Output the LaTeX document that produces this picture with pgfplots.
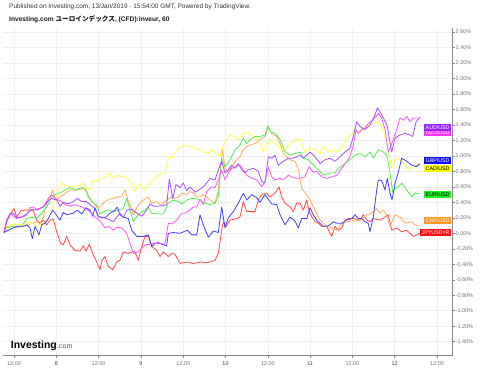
\documentclass[border=0pt]{standalone}
\usepackage{fontspec}
\setmainfont{Liberation Sans}
\newfontfamily\cjk{Noto Sans CJK JP}
\usepackage{pgfplots}
\pgfplotsset{compat=1.18}
\definecolor{cAUD}{HTML}{A64DFF}
\definecolor{cNZD}{HTML}{FF55FF}
\definecolor{cGBP}{HTML}{4040F0}
\definecolor{cCAD}{HTML}{FFFF40}
\definecolor{cEUR}{HTML}{50EE50}
\definecolor{cCHF}{HTML}{FFAA55}
\definecolor{cJPY}{HTML}{FF4848}
\definecolor{bAUD}{HTML}{9A22FF}
\definecolor{bNZD}{HTML}{FF33FF}
\definecolor{bGBP}{HTML}{1010F0}
\definecolor{bCAD}{HTML}{FFFF00}
\definecolor{bEUR}{HTML}{22EE22}
\definecolor{bCHF}{HTML}{FF9922}
\definecolor{bJPY}{HTML}{FF1010}
\definecolor{gridc}{HTML}{F0F0F0}
\definecolor{axisc}{HTML}{8A8A8A}
\definecolor{labc}{HTML}{707070}
\definecolor{dayc}{HTML}{404040}
\begin{document}
\begin{tikzpicture}
\begin{axis}[
  at={(3bp,13.3bp)}, anchor=south west,
  width=449bp, height=327.7bp, scale only axis,
  xmin=3, xmax=452, ymin=-1.581, ymax=2.652,
  axis x line=bottom, axis y line=right,
  axis line style={-, draw=axisc, line width=0.8bp},
  xtick={14,56.3,98.6,140.9,183.2,225.5,267.8,310.1,352.4,394.7,437},
  xticklabels={12:00,\textcolor{dayc}{8},12:00,\textcolor{dayc}{9},12:00,\textcolor{dayc}{10},12:00,\textcolor{dayc}{11},12:00,\textcolor{dayc}{12},12:00},
  ytick={-1.4,-1.2,-1,-0.8,-0.6,-0.4,-0.2,0,0.2,0.4,0.6,0.8,1,1.2,1.4,1.6,1.8,2,2.2,2.4,2.6},
  yticklabels={-1.40\%,-1.20\%,-1.00\%,-0.80\%,-0.60\%,-0.40\%,-0.20\%,0.00\%,0.20\%,0.40\%,0.60\%,0.80\%,1.00\%,1.20\%,1.40\%,1.60\%,1.80\%,2.00\%,2.20\%,2.40\%,2.60\%},
  grid=major, major grid style={draw=gridc, line width=0.5bp},
  tick align=outside, major tick length=2.5bp,
  tick style={draw=axisc, line width=0.5bp},
  ticklabel style={font=\fontsize{5.5}{6}\selectfont, text=labc},
  y tick label style={inner xsep=1bp},
  every axis plot/.append style={line width=0.8bp, line join=round, mark=none},
]
\addplot[cJPY] coordinates {(4,0.01) (6.7,0.17) (10,0.24) (14,0.32) (16.7,0.21) (20.7,0.29) (25,0.30) (30,0.30) (33.3,0.29) (36.7,0.17) (40,0.13) (43.3,0.17) (46.7,0.11) (50,0.17) (53.3,0.18) (56.7,0.02) (60.7,-0.13) (63.3,-0.15) (66.7,-0.04) (70,-0.15) (75,-0.22) (80,-0.23) (83.3,-0.16) (86,-0.23) (89.3,-0.14) (92.7,-0.26) (96.7,-0.37) (100,-0.47) (102,-0.35) (105,-0.30) (108.3,-0.43) (112.7,-0.47) (116.7,-0.37) (120,-0.35) (123.3,-0.24) (128.3,-0.26) (131.7,-0.24) (135,-0.24) (138.3,-0.35) (141.7,-0.17) (145,-0.04) (148.3,-0.04) (151.7,-0.17) (156.7,-0.22) (160,-0.30) (163.3,-0.24) (168.3,-0.30) (171.7,-0.26) (175,-0.27) (180,-0.39) (186.7,-0.37) (193.3,-0.39) (200,-0.37) (206.7,-0.38) (215,-0.35) (218.3,-0.26) (221.7,0.04) (223.3,0.15) (226,0.09) (230,0.17) (236.7,0.19) (240,0.21) (243.3,0.41) (246.7,0.28) (255,0.28) (258.3,0.43) (261.7,0.50) (266.7,0.52) (270,0.47) (275,0.52) (279,0.60) (281.7,0.47) (285,0.39) (290,0.34) (293.3,0.28) (296.7,0.39) (300,0.39) (303.3,0.30) (306.7,0.43) (309.3,0.28) (312,0.21) (315,0.15) (318.3,0.13) (321.7,0.09) (326.7,0.09) (331.7,-0.04) (335,0.09) (338.3,0.04) (341.7,0.07) (345,0.17) (348.3,0.19) (353.3,0.19) (360,0.17) (363.3,0.24) (366.7,0.17) (370,0.15) (373.3,0.19) (380,0.17) (385,0.21) (388.3,0.24) (391.7,0.04) (396.7,0.07) (401.7,0.02) (406.7,0.04) (410,0) (413.3,-0.04) (416.7,-0.02) (420,0)};
\addplot[cCHF] coordinates {(4,0.01) (6.7,0.09) (10,0.09) (15,0.08) (18.3,0.08) (23.3,0.09) (30,0.12) (33.3,0.13) (36.7,0.15) (40,0.13) (43.3,0.21) (46.7,0.39) (50,0.47) (52.7,0.56) (55,0.43) (58.3,0.45) (63.3,0.50) (70,0.56) (76.7,0.56) (83.3,0.58) (86.7,0.54) (90,0.45) (93.3,0.39) (96.7,0.34) (100,0.34) (105,0.41) (111.7,0.45) (118.3,0.47) (121.7,0.48) (125,0.56) (128,0.43) (130,0.37) (133.3,0.24) (136.7,0.33) (140,0.39) (143.3,0.43) (148.3,0.47) (151.7,0.39) (156.7,0.41) (160,0.37) (163.3,0.39) (168.3,0.45) (171.7,0.47) (175,0.45) (178.3,0.47) (181.7,0.52) (186.7,0.50) (190,0.54) (193.3,0.52) (196.7,0.47) (200,0.47) (203.3,0.50) (206.7,0.47) (210,0.43) (215,0.39) (218.3,0.56) (222.5,1.09) (225,0.84) (228.3,0.79) (231.7,0.86) (236.7,0.95) (240,0.99) (243.3,1.08) (246.7,1.12) (250,1.14) (255,1.16) (260,1.21) (265,1.25) (268.3,1.38) (271.7,1.29) (276.7,1.25) (280,1.16) (283.3,1.03) (286.7,0.99) (290,0.95) (295,0.93) (298.5,0.82) (301.7,0.58) (306.7,0.50) (310,0.43) (315,0.30) (320,0.17) (326.7,0.09) (331.7,0.07) (336.7,0.04) (341.7,0.13) (348.3,0.15) (355,0.17) (360,0.17) (366.7,0.24) (371.7,0.26) (376.7,0.32) (380,0.26) (383.3,0.30) (386.7,0.24) (390,0.09) (395,0.24) (400,0.21) (403.3,0.15) (406.7,0.13) (411.7,0.15) (415,0.11) (418.3,0.09)};
\addplot[cEUR] coordinates {(4,0.01) (6.7,0.07) (11.7,0.09) (16.7,0.09) (21.7,0.09) (26.7,0.19) (31.7,0.21) (36.7,0.19) (41.7,0.26) (46.7,0.34) (51.7,0.47) (55,0.50) (60,0.52) (65,0.56) (70,0.59) (75,0.56) (81.7,0.59) (85,0.58) (88.3,0.47) (93.3,0.39) (96.7,0.37) (100,0.25) (104,0.28) (108,0.30) (113.3,0.28) (118.3,0.30) (123.3,0.32) (126.7,0.45) (130,0.30) (133.3,0.15) (137,0.22) (141.7,0.28) (145,0.30) (148.3,0.34) (151.7,0.26) (158.3,0.25) (163.3,0.25) (168.3,0.39) (173.3,0.43) (178.3,0.41) (181.7,0.38) (186.7,0.43) (191.7,0.45) (195,0.45) (200,0.43) (205,0.39) (210,0.37) (215,0.39) (218.3,0.47) (221.7,0.97) (225,0.86) (230,0.95) (235,1.08) (240,1.14) (243.3,1.23) (246.7,1.16) (250,1.21) (255,1.25) (260,1.25) (265,1.27) (267.7,1.39) (270.7,1.31) (275,1.29) (280,1.21) (285,1.05) (290,1.01) (295,1.03) (300,1.05) (303.3,0.97) (308.3,0.95) (313.3,0.88) (318.3,0.82) (323.3,0.75) (330,0.78) (335,0.78) (338.3,0.84) (343.3,0.88) (350,0.95) (355,1.01) (360,1.03) (365,0.99) (370,1.05) (373.3,0.97) (378.3,1.08) (383.3,1.05) (386.7,1.01) (389.3,0.84) (392.7,0.53) (395,0.58) (398.3,0.60) (401.7,0.65) (406.7,0.56) (411.7,0.47) (415,0.52) (420,0.51)};
\addplot[cCAD] coordinates {(4,0.01) (6.7,0.07) (10,0.11) (15,0.12) (20,0.11) (25,0.12) (28.3,0.15) (33.3,0.12) (36.7,0.09) (40,0.11) (43.3,0.13) (48.3,0.17) (51.7,0.30) (55,0.43) (58.3,0.56) (61.7,0.65) (65,0.62) (70,0.60) (75,0.61) (80,0.62) (83.3,0.65) (86.7,0.58) (90,0.56) (93.3,0.69) (96.7,0.67) (100,0.71) (105,0.72) (109.3,0.78) (112.7,0.72) (116.7,0.75) (121.7,0.73) (125,0.74) (128.3,0.69) (131.7,0.65) (135,0.54) (138.3,0.64) (141.7,0.61) (144.3,0.56) (148,0.62) (151.7,0.67) (156.7,0.73) (161.7,0.78) (165,0.78) (168.3,0.99) (171.7,0.97) (175,1.05) (180,1.12) (185,1.14) (190,1.12) (195,1.10) (200,1.08) (203.3,1.05) (208.3,1.03) (211.7,1.08) (216.7,1.03) (220,0.99) (223.3,1.14) (226.7,1.21) (230,1.27) (235,1.25) (238.3,1.21) (243.3,1.29) (248.3,1.30) (253.3,1.25) (258.3,1.21) (263.3,1.05) (266.7,1.16) (270,1.21) (275,1.16) (280,1.10) (285,1.08) (290,1.16) (295,1.21) (300,1.21) (305,1.05) (310,1.10) (315,1.08) (320,1.03) (323.3,1.12) (328.3,1.05) (333.3,1.08) (338.3,1.05) (341.7,1.12) (346.7,1.23) (351.7,1.27) (355,1.36) (358.3,1.31) (361.7,1.34) (365,1.38) (368.3,1.40) (373.3,1.42) (378.3,1.44) (381.7,1.38) (385,1.23) (388.3,1.08) (391.7,0.84) (395,0.95) (398.3,0.97) (403.3,0.90) (408.3,0.82) (413.3,0.86) (420,0.90)};
\addplot[cGBP] coordinates {(4,0.01) (8.3,0.04) (13.3,0.07) (18.3,0.09) (23.3,0.09) (26.7,0.11) (30,0.07) (32.3,-0.07) (35,0.09) (39,-0.02) (41.7,0.11) (45,0.13) (48.3,0.19) (52.7,0.30) (55,0.26) (60,0.17) (63.3,0.27) (66.7,0.24) (73.3,0.26) (77.3,0.30) (81.7,0.25) (86,0.33) (90,0.30) (92.7,0.22) (95,0.33) (98.3,0.22) (101.7,0.20) (106,0.21) (110,0.26) (115,0.30) (117.3,0.34) (120,0.24) (123.3,0.21) (128.3,0.19) (131.7,0.04) (136.7,-0.04) (143.3,-0.04) (148.3,-0.02) (151.7,-0.17) (155,-0.13) (158.3,-0.12) (163.3,-0.15) (166.7,-0.16) (168.3,0) (173.3,0.01) (180,0) (187.3,0.04) (191.7,-0.02) (196.7,-0.02) (200,0.24) (203.3,0.11) (208.3,-0.05) (213.3,0.03) (218.3,0.01) (221.7,0.34) (225,0.07) (228.3,0.20) (233.3,0.28) (238.3,0.39) (243.3,0.52) (246.7,0.43) (251.7,0.50) (256.7,0.46) (260,0.40) (265,0.50) (268.3,0.44) (271.7,0.38) (276.7,0.37) (280,0.24) (285,0.11) (290,0.21) (295,0.16) (298.3,0.07) (301.7,0.19) (306.7,0.19) (310,0.33) (313.3,0.24) (316.7,0.17) (320,0.13) (323.3,0.09) (326.7,0.09) (330,0.11) (333.3,0.15) (336.7,0.13) (341.7,0.13) (346.7,0.17) (351.7,0.19) (355,0.24) (358.3,0.19) (361.7,0.19) (365,0.15) (368.3,0.13) (370,0.02) (373.3,0.21) (376.7,0.56) (378.3,0.69) (381.7,0.68) (385,0.56) (387.3,0.71) (390,0.52) (392,0.43) (395,0.64) (398.3,0.79) (401.7,0.97) (406.7,0.93) (411.7,0.88) (416.7,0.86) (420,0.90)};
\addplot[cNZD] coordinates {(4,0.01) (6.7,0.17) (10,0.26) (13.3,0.22) (16.7,0.19) (20,0.21) (23.3,0.21) (26.7,0.24) (30,0.33) (33.3,0.34) (36.7,0.31) (43.3,0.34) (48.3,0.45) (51.7,0.50) (55,0.45) (58.3,0.43) (61.7,0.41) (65,0.37) (70,0.35) (75,0.37) (80,0.35) (85,0.32) (90,0.28) (95,0.21) (100,0.16) (105,0.07) (109,0.09) (113.3,0.04) (117,0.08) (121.7,0.07) (126.7,0) (130,-0.13) (133.3,-0.26) (138.3,-0.24) (141.7,-0.19) (145,-0.15) (150,-0.14) (153.3,-0.13) (160,-0.13) (165,-0.14) (168.3,0.13) (172,0.12) (176.7,0.17) (181.7,0.26) (185,0.26) (190,0.30) (193.3,0.34) (196.7,0.34) (200,0.44) (203.3,0.37) (206.7,0.54) (211.7,0.60) (215,0.59) (218.3,0.69) (221.7,0.82) (225,0.69) (228.3,0.78) (231.7,0.84) (236.7,0.86) (240,0.88) (243.3,0.82) (246.7,0.75) (251.7,0.71) (256.7,0.69) (261.7,0.60) (265,0.67) (268.3,0.86) (271.7,0.73) (275,0.69) (280,0.71) (283.3,0.69) (288.3,0.75) (291.7,0.73) (296.7,0.71) (300,0.71) (305,0.73) (309,0.86) (313,0.79) (316.7,0.80) (321.7,0.73) (326.7,0.71) (331.7,0.73) (336.7,0.75) (341.7,0.84) (346.7,0.93) (350,0.99) (353.3,1.14) (356,1.34) (358.3,1.29) (361.7,1.34) (365,1.36) (368.3,1.42) (372.7,1.46) (376,1.51) (378.3,1.55) (381.7,1.49) (385,1.34) (388.3,1.05) (391.7,1.16) (396.7,1.34) (400,1.49) (403.3,1.46) (406.7,1.51) (410,1.44) (413.3,1.49) (418.3,1.49)};
\addplot[cAUD] coordinates {(4,0.01) (6.7,0.15) (10,0.24) (13.3,0.26) (16.7,0.20) (21.7,0.21) (26.7,0.25) (31.7,0.31) (36.7,0.30) (43.3,0.34) (48.3,0.42) (51.7,0.45) (56.7,0.43) (60,0.35) (63.3,0.40) (68.3,0.38) (73.3,0.41) (77.3,0.45) (81.7,0.41) (86.7,0.41) (91.7,0.35) (95,0.32) (98.3,0.21) (101.7,0.21) (106.7,0.19) (110,0.17) (113.3,0.15) (116.7,0.21) (120,0.26) (123.3,0.20) (126.7,0.30) (131.7,0.31) (136.7,0.26) (141.7,0.22) (146.7,0.30) (150,0.38) (153.3,0.35) (158.3,0.35) (163.3,0.36) (166.7,0.37) (169.3,0.70) (172.7,0.45) (176,0.63) (180,0.59) (183.3,0.65) (186.7,0.55) (190,0.60) (195,0.53) (200,0.57) (203.3,0.60) (206.7,0.65) (210,0.71) (215,0.69) (218.3,0.82) (221.7,0.93) (225,0.78) (228.3,0.82) (231.7,0.88) (235,0.84) (238.3,0.90) (241.7,0.82) (245,0.78) (248.3,0.82) (253.3,0.84) (258.3,0.80) (261.7,0.67) (265,0.65) (268.3,0.99) (271.7,0.97) (275,1.01) (278.3,0.88) (283.3,0.93) (288.3,0.97) (293.3,0.97) (296.7,0.99) (300,1.01) (303.3,0.97) (306.7,1.01) (310,1.05) (315,0.99) (320,0.90) (325,0.95) (330,0.97) (335,0.93) (340,0.99) (345,1.05) (350,1.10) (353.3,1.25) (356.7,1.44) (360,1.38) (365,1.34) (370,1.40) (375,1.53) (377.3,1.62) (380,1.57) (383.3,1.49) (387,1.40) (389.5,1.21) (391.7,1.05) (395,1.23) (400,1.27) (405,1.29) (410,1.27) (412.7,1.25) (416,1.44) (420,1.50)};
\tikzset{lab/.style={anchor=east, inner xsep=1.6bp, inner ysep=0bp, minimum height=7.3bp, font=\fontsize{5.3}{6}\selectfont}}
\node[lab, fill=bNZD, text=white] at (axis cs:451.3,1.305) {NZD/USD};
\node[lab, fill=bAUD, text=white] at (axis cs:451.3,1.370) {AUD/USD};
\node[lab, fill=bGBP, text=white] at (axis cs:451.3,0.943) {GBP/USD};
\node[lab, fill=bCAD, text=black] at (axis cs:451.3,0.835) {CAD/USD};
\node[lab, fill=bEUR, text=black] at (axis cs:451.3,0.504) {EUR/USD};
\node[lab, fill=bCHF, text=white] at (axis cs:451.3,0.163) {CHF/USD};
\node[lab, fill=bJPY, text=white] at (axis cs:451.3,0.013) {JPYUSD=R};
\end{axis}
\node[anchor=west, inner sep=0pt, text=black!80, font=\fontsize{6.5}{7}\selectfont] at (9bp,362.3bp) {Published on Investing.com, 13/Jan/2019 - 15:54:00 GMT, Powered by TradingView.};
\node[anchor=west, inner sep=0pt, text=black!90, font=\fontsize{6.65}{8}\selectfont\bfseries] at (9bp,350bp) {Investing.com {\cjk ユーロインデックス}, (CFD):inveur, 60};
\node[anchor=base west, inner sep=0pt, font=\fontsize{10.5}{12}\selectfont\bfseries] (inv) at (10.7bp,20.5bp) {Investing};
\node[anchor=base west, inner sep=0pt, text=black!65, font=\fontsize{7}{8}\selectfont] at (inv.base east) {.com};
\pgfresetboundingbox
\path[use as bounding box] (0bp,0bp) rectangle (480bp,369bp);
\end{tikzpicture}
\end{document}
